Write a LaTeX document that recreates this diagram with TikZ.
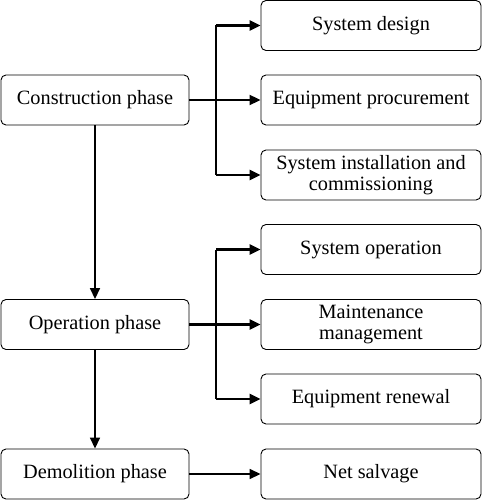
\documentclass[tikz,border=0pt]{standalone}
\usepackage{fontspec}
\setmainfont{Liberation Serif}
\usetikzlibrary{arrows.meta}
\begin{document}
\begin{tikzpicture}[x=1pt,y=-1pt,
  box/.style={draw,line width=0.9pt,rounded corners=5pt,inner sep=0pt,align=center,
    font=\fontsize{20.3}{20.5}\selectfont},
  lbox/.style={box,minimum width=188pt,minimum height=50pt},
  rbox/.style={box,minimum width=220pt,minimum height=50pt},
  thin/.style={line width=1.6pt,-{Triangle[length=11pt,width=10pt]}},
  thick/.style={line width=2.8pt},
  thicka/.style={line width=2.8pt,-{Triangle[length=11pt,width=10pt]}}]
\useasboundingbox (0,0) rectangle (482,500);
\node[lbox] (cons) at (95,100) {Construction phase};
\node[lbox] (oper) at (95,324.5) {Operation phase};
\node[lbox] (demo) at (95,474) {Demolition phase};
\node[rbox] (sd) at (371,25.5) {System design};
\node[rbox] (ep) at (371,100) {Equipment procurement};
\node[rbox] (si) at (371,175) {System installation and\\commissioning};
\node[rbox] (so) at (371,249.5) {System operation};
\node[rbox] (mm) at (371,324.5) {Maintenance\\management};
\node[rbox] (er) at (371,399) {Equipment renewal};
\node[rbox] (ns) at (371,474) {Net salvage};
\coordinate (b1) at (216,100);
\coordinate (b2) at (216,324.5);
% construction branch
\draw[thick] (cons.east) -- (b1);
\draw[thick] (b1 |- sd.west) -- (b1 |- si.west);
\draw[thicka] (b1 |- sd.west) -- (sd.west);
\draw[thin,line width=2pt] (b1) -- (ep.west);
\draw[thicka] (b1 |- si.west) -- (si.west);
% operation branch
\draw[thick] (oper.east) -- (b2);
\draw[thick] (b2 |- so.west) -- (b2 |- er.west);
\draw[thicka] (b2 |- so.west) -- (so.west);
\draw[thicka] (b2) -- (mm.west);
\draw[thicka] (b2 |- er.west) -- (er.west);
% phases
\draw[thin] (cons.south) -- (oper.north);
\draw[thin] (oper.south) -- (demo.north);
\draw[thin] (demo.east) -- (ns.west);
\end{tikzpicture}
\end{document}
